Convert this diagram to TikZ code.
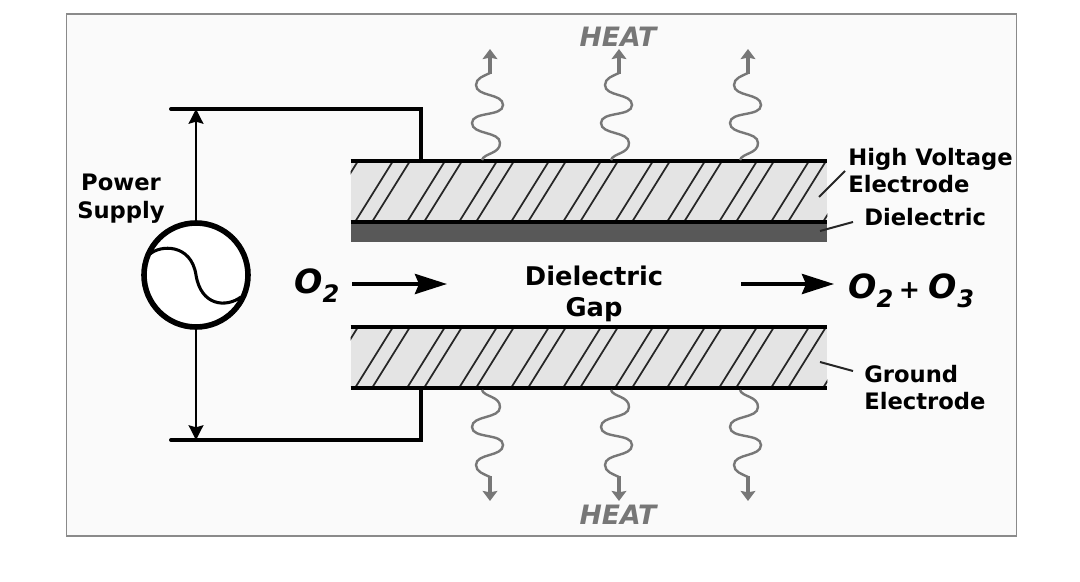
\documentclass[tikz,border=0pt]{standalone}
\usepackage{fontspec}
\setmainfont{DejaVu Sans}
\usetikzlibrary{arrows.meta, positioning, calc}
\definecolor{framegrey}{HTML}{8A8A8A}
\definecolor{panelgrey}{HTML}{FAFAFA}
\definecolor{platefill}{HTML}{E4E4E4}
\definecolor{dielgrey}{HTML}{585858}
\definecolor{heatgrey}{HTML}{777777}
\tikzset{
  x=0.75pt, y=-0.75pt,
  >={Stealth[length=11pt, width=11pt, inset=1.5pt]},
  plate/.style={rectangle, draw=none, fill=platefill, minimum width=357pt, minimum height=45.75pt, inner sep=0pt},
  diel/.style={rectangle, draw=none, fill=dielgrey, minimum width=357pt, minimum height=14.25pt, inner sep=0pt},
  wire/.style={line width=3pt, line cap=round, line join=miter},
  plateline/.style={line width=3pt},
  hatch/.style={line width=1.3pt, draw=black!85},
  lead/.style={line width=1.5pt, draw=black!85},
  volt/.style={->, line width=2pt},
  gasflow/.style={-{Stealth[length=24pt, width=15pt, inset=3pt]}, line width=3pt},
  wave/.style={line width=1.8pt, draw=heatgrey},
  heatup/.style={-{Stealth[length=7.5pt, width=11pt, inset=1pt]}, line width=2.4pt, draw=heatgrey},
  lbl/.style={font=\fontsize{17pt}{20.25pt}\selectfont\bfseries, align=left, inner sep=0pt},
  lblc/.style={lbl, align=center, font=\fontsize{17pt}{21pt}\selectfont\bfseries},
  gas/.style={font=\fontsize{25pt}{28pt}\selectfont\bfseries\itshape, inner sep=0pt},
  heat/.style={font=\fontsize{20pt}{22pt}\selectfont\bfseries\itshape, text=heatgrey, inner sep=0pt},
}
\newcommand{\gassub}[1]{\raisebox{-0.28em}{\fontsize{18pt}{18pt}\selectfont #1}}
\newcommand{\heatwave}{
  \draw[wave] (482,160) .. controls (484,153) and (500,154) .. (500,143)
    .. controls (500,131) and (472,135) .. (472,123)
    .. controls (472,111) and (503,117) .. (503,105)
    .. controls (503,93) and (476,97) .. (476,85)
    .. controls (476,78) and (484,76) .. (490,73);
  \draw[heatup] (490,74) -- (490,49);
}
\begin{document}
\begin{tikzpicture}
  \useasboundingbox (0,0) rectangle (1080,581);
  \node[draw=framegrey, line width=0.9pt, fill=panelgrey, minimum width=713pt, minimum height=391.5pt, inner sep=0pt] (panel) at (541.5,275) {};

  % electrodes
  \node[plate] (hv) at (589,191.5) {};
  \node[diel, below=0pt of hv] (dl) {};
  \node[plate] (gnd) at (589,357.5) {};
  \foreach \pl/\ya/\yb in {hv/161/222, gnd/327/388} {
    \begin{scope}
      \clip (\pl.south west) rectangle (\pl.north east);
      \foreach \k in {-1,...,9} {
        \draw[hatch] ({355+52*\k},\yb) -- ++(38,\ya-\yb);
        \draw[hatch] ({372+52*\k},\yb) -- ++(38,\ya-\yb);
      }
    \end{scope}
    \draw[plateline] (\pl.north west) -- (\pl.north east);
    \draw[plateline] (\pl.south west) -- (\pl.south east);
  }

  % supply
  \coordinate (tl) at (171,109);
  \coordinate (bl) at (171,440);
  \coordinate (tp) at (421,161);
  \coordinate (bp) at (421,388);
  \draw[wire] (tl) -| (tp);
  \draw[wire] (bl) -| (bp);
  \node[circle, draw, line width=4.2pt, fill=white, minimum size=78pt, inner sep=0pt] (ac) at (196,275) {};
  \draw[volt] (ac.north) -- (ac.north |- tl);
  \draw[volt] (ac.south) -- (ac.south |- bl);
  \draw[line width=2.3pt] (150,254) .. controls (160,245) and (191,243) .. (196,275)
    .. controls (201,306) and (226,308) .. (241,297);
  \node[lblc] (ps) at (121,199) {Power\\Supply};

  % gas flow
  \node[gas, anchor=base west] (o2in) at (294,293) {O\gassub{2}};
  \coordinate (ina) at (352,284);
  \coordinate (inb) at (447,284);
  \draw[gasflow] (ina) -- (inb);
  \node[lblc, font=\fontsize{19.3pt}{23.2pt}\selectfont\bfseries] (gap) at (594,293.5) {Dielectric\\Gap};
  \coordinate (outa) at (741,284);
  \coordinate (outb) at (834,284);
  \draw[gasflow] (outa) -- (outb);
  \node[gas, anchor=base west] (o2out) at (848,298) {O\gassub{2}\,\fontsize{19pt}{22pt}\selectfont+ \fontsize{25pt}{28pt}\selectfont O\gassub{3}};

  % heat
  \foreach \dx in {0,129,258} {
    \begin{scope}[shift={(\dx,0)}]
      \heatwave
    \end{scope}
    \begin{scope}[shift={(\dx,550)}, yscale=-1]
      \heatwave
    \end{scope}
  }
  \node[heat] (heattop) at (618,37) {HEAT};
  \node[heat] (heatbot) at (618,515) {HEAT};

  % labels
  \node[lbl, anchor=west] (hvl) at (848,170.5) {High Voltage\\Electrode};
  \node[lbl, anchor=west] (dll) at (864,217) {Dielectric};
  \node[lbl, anchor=west] (gl) at (864,387.5) {Ground\\Electrode};
  \coordinate (hvt) at (819,197);
  \coordinate (dlt) at (820,231);
  \coordinate (gt) at (820,362);
  \draw[lead] (hvt) -- (845,171);
  \draw[lead] (dlt) -- (853,222);
  \draw[lead] (gt) -- (853,371);
\end{tikzpicture}
\end{document}
